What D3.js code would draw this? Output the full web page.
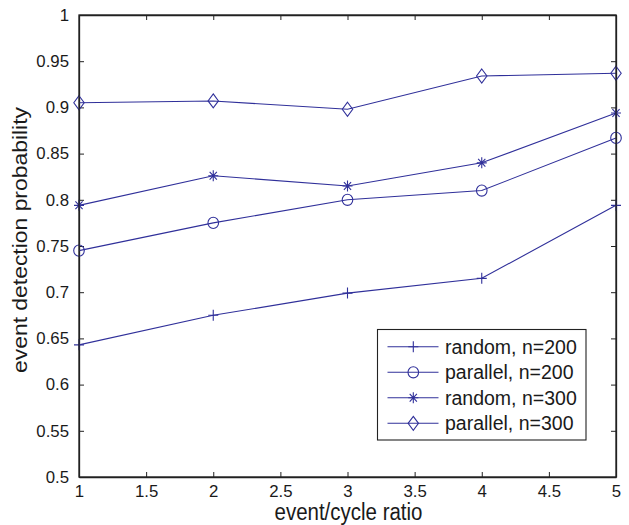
<!DOCTYPE html>
<html>
<head>
<meta charset="utf-8">
<script src="https://cdn.jsdelivr.net/npm/d3@7"></script>
<style>
  html, body { margin: 0; padding: 0; background: #fff; }
  svg { display: block; }
  text { font-family: "Liberation Sans", Arial, Helvetica, sans-serif; fill: #1a1a1a; }
</style>
</head>
<body>
<svg id="chart" width="629" height="525"></svg>
<script>
const xValues = [1, 2, 3, 4, 5];
const randomN200 = [0.643, 0.675, 0.699, 0.715, 0.794];
const parallelN200 = [0.745, 0.775, 0.800, 0.810, 0.867];
const randomN300 = [0.794, 0.826, 0.815, 0.840, 0.894];
const parallelN300 = [0.905, 0.907, 0.898, 0.934, 0.937];
const seriesNames = ["random, n=200", "parallel, n=200", "random, n=300", "parallel, n=300"];
const seriesMarkers = ["plus", "circle", "star", "diamond"];
const xTicks = [1, 1.5, 2, 2.5, 3, 3.5, 4, 4.5, 5];
const yTicks = [0.5, 0.55, 0.6, 0.65, 0.7, 0.75, 0.8, 0.85, 0.9, 0.95, 1];
const xLabel = "event/cycle ratio";
const yLabel = "event detection probability";

const seriesValues = [randomN200, parallelN200, randomN300, parallelN300];
const series = seriesNames.map((name, i) => ({
  name, marker: seriesMarkers[i],
  points: xValues.map((x, j) => ({x, y: seriesValues[i][j]}))
}));

const svg = d3.select("#chart");
const L = 79, R = 616, T = 15, B = 477;
const x = d3.scaleLinear().domain([1, 5]).range([L, R]);
const y = d3.scaleLinear().domain([0.5, 1]).range([B, T]);
const lineColor = "#30309a";
const axisColor = "#222";

const fmt = d => String(+d.toFixed(2));
const tickLen = 5;
const gx = svg.append("g").attr("transform", `translate(0,${B})`)
  .call(d3.axisBottom(x).tickValues(xTicks).tickFormat(fmt).tickSizeInner(-tickLen).tickSizeOuter(0).tickPadding(8));
const gxTop = svg.append("g").attr("transform", `translate(0,${T})`)
  .call(d3.axisTop(x).tickValues(xTicks).tickFormat("").tickSizeInner(-tickLen).tickSizeOuter(0));
const gy = svg.append("g").attr("transform", `translate(${L},0)`)
  .call(d3.axisLeft(y).tickValues(yTicks).tickFormat(fmt).tickSizeInner(-tickLen).tickSizeOuter(0).tickPadding(10));
const gyR = svg.append("g").attr("transform", `translate(${R},0)`)
  .call(d3.axisRight(y).tickValues(yTicks).tickFormat("").tickSizeInner(-tickLen).tickSizeOuter(0));
[gx, gxTop, gy, gyR].forEach(g => {
  g.select(".domain").attr("stroke", axisColor).attr("stroke-width", 1.3);
  g.selectAll(".tick line").attr("stroke", axisColor).attr("stroke-width", 1);
  g.selectAll(".tick text").attr("font-size", "16.8px").attr("fill", "#1a1a1a")
    .attr("font-family", '"Liberation Sans", Arial, sans-serif');
});
gx.selectAll(".tick text").attr("dy", "0.71em");

function drawMarker(g, type, cx, cy) {
  const s = g.append("g").attr("transform", `translate(${cx},${cy})`)
    .attr("stroke", lineColor).attr("stroke-width", 1.1).attr("fill", "none");
  if (type === "plus") {
    s.append("path").attr("d", "M-5,0H5M0,-5.5V5.5");
  } else if (type === "circle") {
    s.append("ellipse").attr("rx", 5.3).attr("ry", 5.6).attr("fill", "none");
  } else if (type === "star") {
    s.append("path").attr("d", "M-5,0H5M0,-5.5V5.5M-3.6,-3.9L3.6,3.9M-3.6,3.9L3.6,-3.9");
  } else if (type === "diamond") {
    s.append("path").attr("d", "M0,-7L5.2,0L0,7L-5.2,0Z");
  }
}

const line = d3.line().x(d => x(d.x)).y(d => y(d.y));
series.forEach(s => {
  svg.append("path").datum(s.points).attr("d", line)
    .attr("fill", "none").attr("stroke", lineColor).attr("stroke-width", 1.1);
  const g = svg.append("g");
  s.points.forEach(p => drawMarker(g, s.marker, x(p.x), y(p.y)));
});

svg.append("rect").attr("x", L).attr("y", T).attr("width", R - L).attr("height", B - T)
  .attr("fill", "none").attr("stroke", axisColor).attr("stroke-width", 1.3);

const lg = svg.append("g");
lg.append("rect").attr("x", 377.5).attr("y", 329.5).attr("width", 208.5).attr("height", 110.5)
  .attr("fill", "#fff").attr("stroke", axisColor).attr("stroke-width", 1.1);
const legY = [346.7, 372.3, 397.7, 423.3];
series.forEach((s, i) => {
  lg.append("line").attr("x1", 387.5).attr("x2", 438.5).attr("y1", legY[i]).attr("y2", legY[i])
    .attr("stroke", lineColor).attr("stroke-width", 1.1);
  drawMarker(lg, s.marker, 413.3, legY[i]);
  lg.append("text").attr("x", 445).attr("y", legY[i]).attr("dy", "0.35em")
    .attr("font-size", "19.5px").text(s.name);
});

svg.append("text").attr("x", (L + R) / 2 + 1).attr("y", 520).attr("text-anchor", "middle")
  .attr("font-size", "23px").attr("textLength", 148).attr("lengthAdjust", "spacingAndGlyphs").text(xLabel);
svg.append("text").attr("transform", `translate(27,${(107 + 373) / 2}) rotate(-90)`)
  .attr("text-anchor", "middle").attr("font-size", "21px")
  .attr("textLength", 266).attr("lengthAdjust", "spacingAndGlyphs").text(yLabel);
</script>
</body>
</html>
